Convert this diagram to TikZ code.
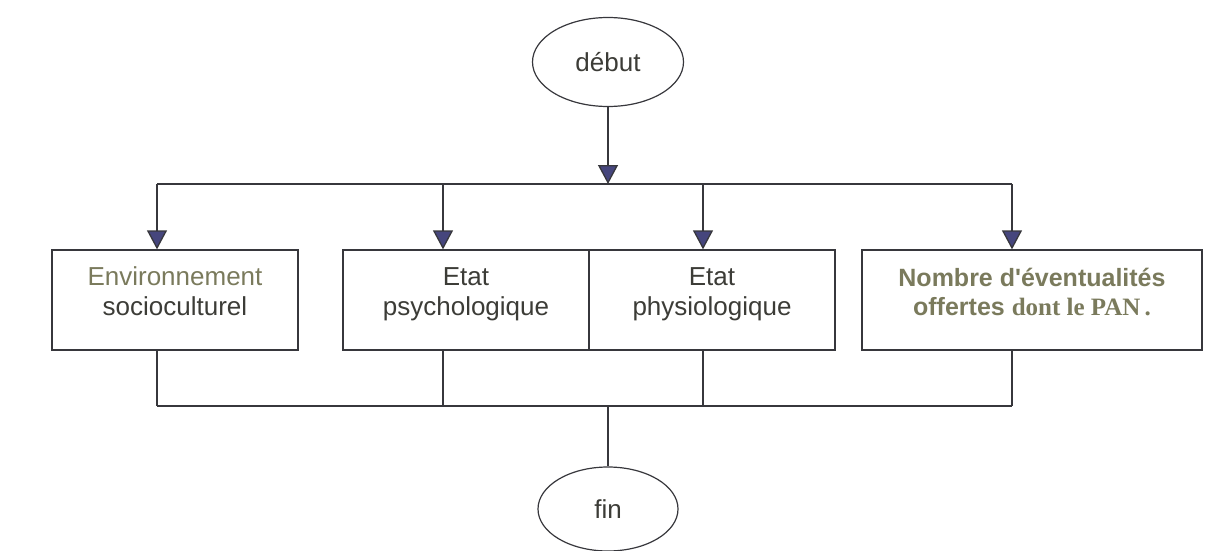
\documentclass[tikz,border=0pt]{standalone}
\usepackage{fontspec}
\setmainfont{Liberation Sans}
\newfontfamily\serifbf{Liberation Serif}[Scale=1.0]
\usepackage{tikz}
\usetikzlibrary{arrows.meta,shapes.geometric}
\definecolor{linegray}{RGB}{55,55,60}
\definecolor{tipblue}{RGB}{70,70,125}
\definecolor{textgray}{RGB}{60,60,55}
\definecolor{olive}{RGB}{122,122,92}
\tikzset{
    term/.style={ellipse, draw=linegray, line width=1.2pt, text=textgray,
    	font=\fontsize{26}{30}\selectfont}
}
\tikzset{
    box/.style={rectangle, draw=linegray, line width=1.3pt, align=center,
    	minimum width=246, minimum height=100, text height=50pt, text depth=20pt,
    	text=textgray, font=\fontsize{26}{30}\selectfont}
}
\tikzset{
	link/.style={draw=linegray, line width=1.3pt},
	arr/.style={link, -{Triangle[width=20pt,length=19pt,fill=tipblue]}}
}

\begin{document}
\begin{tikzpicture}[x=1pt,y=-1pt]
	\useasboundingbox (0,0) rectangle (1205,551);
	\node (debut) [term, minimum width=151, minimum height=89] at (608,62) {début};
	\node (env) [box] at (175,300) {\textcolor{olive}{Environnement}\\socioculturel};
	\node (psy) [box] at (466,300) {Etat\\psychologique};
	\node (phy) [box] at (712,300) {Etat\\physiologique};
	\node (nb) [box, minimum width=340, text=olive,
		font=\fontsize{25}{29}\selectfont\bfseries] at (1032,300)
		{Nombre d\textquotesingle éventualités\\offertes {\serifbf dont le PAN\,.}};
	\node (fin) [term, minimum width=140, minimum height=84] at (608,509) {fin};
	
	\coordinate (top) at (608,184); \coordinate (bot) at (608,406);
	\coordinate (t1) at (157,184); \coordinate (t2) at (443,184);
	\coordinate (t3) at (703,184); \coordinate (t4) at (1012,184);
	\coordinate (b1) at (157,406); \coordinate (b2) at (443,406);
	\coordinate (b3) at (703,406); \coordinate (b4) at (1012,406);
	
	\draw[arr] (debut) -- (top);
	\draw[link] (t1) -- (t4);
	\draw[arr] (t1) -- (t1 |- env.north); \draw[arr] (t2) -- (t2 |- psy.north);
	\draw[arr] (t3) -- (t3 |- phy.north); \draw[arr] (t4) -- (t4 |- nb.north);
	\draw[link] (t1 |- env.south) -- (b1); \draw[link] (t2 |- psy.south) -- (b2);
	\draw[link] (t3 |- phy.south) -- (b3); \draw[link] (t4 |- nb.south) -- (b4);
	\draw[link] (b1) -- (b4);
	\draw[link] (bot) -- (fin);
\end{tikzpicture}
\end{document}
